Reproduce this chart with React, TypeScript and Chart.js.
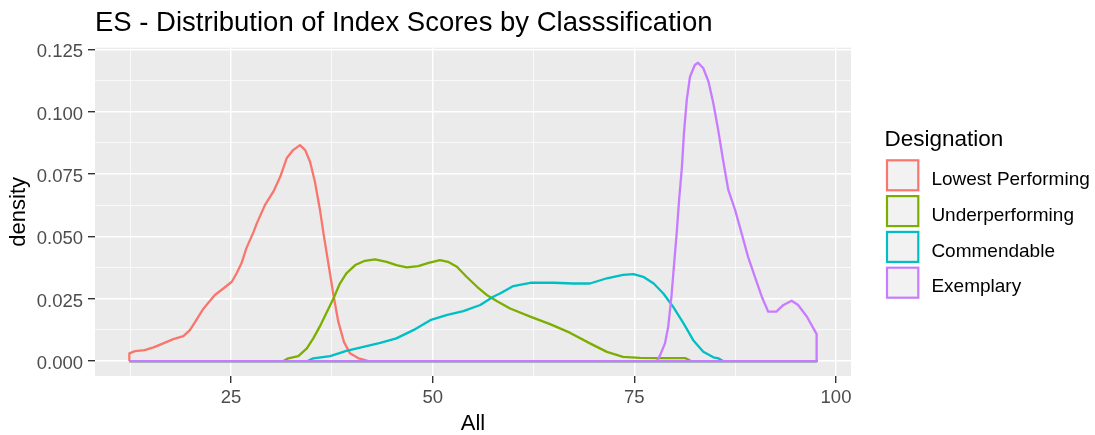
import React, { useEffect, useRef } from "react";
import { Chart, registerables } from "chart.js";

Chart.register(...registerables);

// ---------- data ----------
const chartTitle = "ES - Distribution of Index Scores by Classsification";
const xAxisTitle = "All";
const yAxisTitle = "density";
const legendTitle = "Designation";

const seriesNames = ["Lowest Performing", "Underperforming", "Commendable", "Exemplary"];
const seriesColors = ["#F8766D", "#7CAE00", "#00BFC4", "#C77CFF"];

// overall data range of the density estimates (all groups share it)
const rangeMin = 12.4;
const rangeMax = 97.6;

const lowestX = [12.4, 13.1, 14.3, 15.4, 16.6, 17.85, 19.1, 19.9, 20.5, 21.6, 23.0, 24.05, 25.1, 25.7, 26.3, 26.9, 27.8, 28.2, 29.2, 30.25, 31.1, 31.9, 32.7, 33.55, 34.2, 34.8, 35.4, 36.0, 36.5, 37.1, 37.7, 38.3, 39.0, 39.75, 40.8, 41.2, 42.0];
const lowestY = [0.0031, 0.004, 0.0044, 0.0055, 0.0071, 0.0088, 0.01, 0.0124, 0.0154, 0.0211, 0.0265, 0.0291, 0.0318, 0.0352, 0.0392, 0.0452, 0.0518, 0.0552, 0.0625, 0.0679, 0.0739, 0.0813, 0.0846, 0.0866, 0.0846, 0.0799, 0.0719, 0.0612, 0.0505, 0.0385, 0.0265, 0.0158, 0.0077, 0.0031, 0.0011, 0.0008, 0];

const underX = [31.5, 32.1, 33.35, 34.4, 35.2, 36.0, 36.9, 37.7, 38.5, 39.3, 40.4, 41.6, 42.85, 44.3, 45.5, 46.8, 48.2, 49.5, 50.9, 51.9, 53.0, 54.2, 55.5, 56.7, 58.1, 59.6, 62.1, 64.55, 67.0, 69.5, 71.6, 73.6, 75.7, 78.5, 81.3, 82.0];
const underY = [0, 0.0011, 0.002, 0.0051, 0.0091, 0.0138, 0.0198, 0.0251, 0.0311, 0.0352, 0.0385, 0.0402, 0.0408, 0.0398, 0.0385, 0.0376, 0.0381, 0.0394, 0.0405, 0.0398, 0.0378, 0.0338, 0.0298, 0.0265, 0.0238, 0.0211, 0.0178, 0.0148, 0.0114, 0.0071, 0.0037, 0.0017, 0.0013, 0.0012, 0.0012, 0];

const commendX = [34.5, 35.2, 37.3, 39.3, 41.4, 43.5, 45.5, 47.6, 49.7, 51.7, 53.8, 55.9, 57.5, 58.35, 60.0, 62.1, 65.0, 67.4, 69.5, 71.6, 73.6, 74.9, 76.1, 77.4, 78.6, 79.8, 81.1, 82.3, 83.55, 84.8, 85.4, 86.0];
const commendY = [0, 0.0011, 0.002, 0.0041, 0.0057, 0.0073, 0.0091, 0.0124, 0.0164, 0.0184, 0.02, 0.0225, 0.0258, 0.0271, 0.0301, 0.0314, 0.0314, 0.0311, 0.0311, 0.0332, 0.0346, 0.0349, 0.0338, 0.0311, 0.0271, 0.0218, 0.0151, 0.0084, 0.0037, 0.0015, 0.0011, 0];

const exemplaryX = [77.8, 78.2, 78.8, 79.2, 79.6, 79.9, 80.25, 80.55, 80.9, 81.15, 81.5, 81.9, 82.5, 82.9, 83.55, 84.2, 84.8, 85.4, 86.0, 86.65, 87.5, 88.3, 89.1, 89.95, 90.8, 91.6, 92.6, 93.5, 94.5, 95.3, 96.4, 97.6];
const exemplaryY = [0, 0.0024, 0.0071, 0.0138, 0.0258, 0.0378, 0.0512, 0.0646, 0.0779, 0.0913, 0.1047, 0.114, 0.1187, 0.1196, 0.1174, 0.112, 0.1033, 0.0926, 0.0806, 0.0686, 0.0605, 0.0512, 0.0418, 0.0338, 0.0258, 0.0198, 0.0198, 0.0225, 0.0242, 0.0225, 0.0178, 0.0108];

const seriesX = [lowestX, underX, commendX, exemplaryX];
const seriesY = [lowestY, underY, commendY, exemplaryY];

const xLimits = [8.14, 101.86];
const yLimits = [-0.00598, 0.12564];

const xMajorTicks = [25, 50, 75, 100];
const xMajorLabels = ["25", "50", "75", "100"];
const xMinorTicks = [12.5, 37.5, 62.5, 87.5];

const yMajorTicks = [0, 0.025, 0.05, 0.075, 0.1, 0.125];
const yMajorLabels = ["0.000", "0.025", "0.050", "0.075", "0.100", "0.125"];
const yMinorTicks = [0.0125, 0.0375, 0.0625, 0.0875, 0.1125];

// ---------- helpers ----------
const FONT = "'Liberation Sans', Arial, Helvetica, sans-serif";

function findIndex(list: number[], v: number): number {
  for (let i = 0; i < list.length; i++) {
    if (Math.abs(list[i] - v) < 1e-9) return i;
  }
  return -1;
}

function outline(xs: number[], ys: number[]) {
  const pts: { x: number; y: number }[] = [{ x: rangeMin, y: 0 }];
  xs.forEach((x, i) => pts.push({ x, y: ys[i] }));
  pts.push({ x: rangeMax, y: 0 });
  pts.push({ x: rangeMin, y: 0 });
  return pts;
}

const panelPlugin = {
  id: "ggPanel",
  beforeDraw(chart: any) {
    const { ctx, chartArea } = chart;
    ctx.save();
    ctx.fillStyle = "#EBEBEB";
    ctx.fillRect(chartArea.left, chartArea.top, chartArea.right - chartArea.left, chartArea.bottom - chartArea.top);
    ctx.restore();
  },
};

const legendPlugin = {
  id: "ggLegend",
  afterDraw(chart: any) {
    const ctx = chart.ctx;
    ctx.save();
    ctx.textAlign = "left";
    ctx.textBaseline = "alphabetic";
    ctx.fillStyle = "#000000";
    ctx.font = `22.5px ${FONT}`;
    ctx.fillText(legendTitle, 884.5, 145.5);
    seriesNames.forEach((name, i) => {
      const top = 159.3 + i * 35.8;
      ctx.fillStyle = "#F2F2F2";
      ctx.fillRect(887, top + 1, 31.3, 30);
      ctx.strokeStyle = seriesColors[i];
      ctx.lineWidth = 2.2;
      ctx.strokeRect(887, top + 1, 31.3, 30);
      ctx.fillStyle = "#000000";
      ctx.font = `19px ${FONT}`;
      ctx.fillText(name, 931.4, top + 25.7);
    });
    ctx.restore();
  },
};

function gridOpts(majors: number[]) {
  const isMajor = (c: any) => c && c.tick && findIndex(majors, c.tick.value) >= 0;
  return {
    display: true,
    drawOnChartArea: true,
    drawTicks: true,
    color: "#FFFFFF",
    lineWidth: (c: any) => (isMajor(c) ? 1.4 : 0.7),
    tickColor: (c: any) => (isMajor(c) ? "#333333" : "rgba(0,0,0,0)"),
    tickWidth: 1.4,
    tickLength: 7,
  };
}

export default function App() {
  const canvasRef = useRef<HTMLCanvasElement | null>(null);

  useEffect(() => {
    if (!canvasRef.current) return;
    Chart.defaults.font.family = FONT;

    const datasets = seriesNames.map((name, i) => ({
      label: name,
      data: outline(seriesX[i], seriesY[i]),
      borderColor: seriesColors[i],
      backgroundColor: seriesColors[i],
      borderWidth: 2.3,
      pointRadius: 0,
      pointHoverRadius: 0,
      fill: false,
      tension: 0,
      borderJoinStyle: "round" as const,
      order: seriesNames.length - 1 - i,
    }));

    const chart = new Chart(canvasRef.current, {
      type: "line",
      data: { datasets },
      options: {
        animation: false,
        responsive: false,
        maintainAspectRatio: false,
        layout: { padding: { left: 0, right: 244, top: 0, bottom: 0 } },
        plugins: {
          legend: { display: false },
          tooltip: { enabled: false },
          title: {
            display: true,
            text: chartTitle,
            align: "start",
            fullSize: false,
            color: "#000000",
            font: { size: 27.5, weight: "normal", lineHeight: 1, family: FONT },
            padding: { top: 9.55, bottom: 10.65 },
          },
        },
        scales: {
          x: {
            type: "linear",
            min: xLimits[0],
            max: xLimits[1],
            afterBuildTicks: (s: any) => {
              s.ticks = [...xMinorTicks, ...xMajorTicks].sort((a, b) => a - b).map((v) => ({ value: v }));
            },
            afterFit: (s: any) => {
              s.height = 59;
            },
            border: { display: false },
            grid: gridOpts(xMajorTicks) as any,
            ticks: {
              autoSkip: false,
              maxRotation: 0,
              minRotation: 0,
              padding: 3.4,
              color: "#4D4D4D",
              font: { size: 18.5, family: FONT },
              callback: (v: any) => {
                const i = findIndex(xMajorTicks, Number(v));
                return i >= 0 ? xMajorLabels[i] : "";
              },
            },
            title: {
              display: true,
              text: xAxisTitle,
              color: "#000000",
              font: { size: 22, lineHeight: 1, family: FONT },
              padding: { top: 0, bottom: 0.5 },
            },
          },
          y: {
            type: "linear",
            min: yLimits[0],
            max: yLimits[1],
            afterBuildTicks: (s: any) => {
              s.ticks = [...yMajorTicks, ...yMinorTicks].sort((a, b) => a - b).map((v) => ({ value: v }));
            },
            afterFit: (s: any) => {
              s.width = 95;
            },
            border: { display: false },
            grid: gridOpts(yMajorTicks) as any,
            ticks: {
              autoSkip: false,
              padding: 5,
              labelOffset: 3,
              color: "#4D4D4D",
              font: { size: 18.5, family: FONT },
              callback: (v: any) => {
                const i = findIndex(yMajorTicks, Number(v));
                return i >= 0 ? yMajorLabels[i] : "";
              },
            },
            title: {
              display: true,
              text: yAxisTitle,
              color: "#000000",
              font: { size: 22, lineHeight: 1, family: FONT },
              padding: { top: 7.5, bottom: 0 },
            },
          },
        },
      },
      plugins: [panelPlugin, legendPlugin],
    });

    return () => {
      chart.destroy();
    };
  }, []);

  return (
    <div style={{ position: "absolute", left: 0, top: 0, width: 1095, height: 435, background: "#FFFFFF" }}>
      <canvas ref={canvasRef} width={1095} height={435} style={{ display: "block", width: 1095, height: 435 }} />
    </div>
  );
}
